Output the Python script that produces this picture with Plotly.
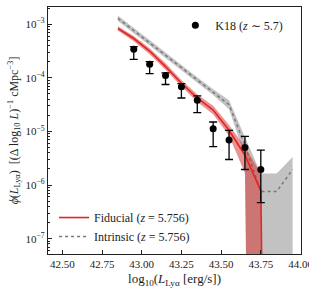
import numpy as np
import plotly.graph_objects as go

# ---------------- data ----------------
# K18 (z ~ 5.7) observed LAE luminosity function
k18_logL = [42.95, 43.05, 43.15, 43.25, 43.35, 43.45, 43.55, 43.65, 43.75]
k18_phi = [3.4e-4, 1.78e-4, 1.1e-4, 6.8e-5, 3.8e-5, 1.12e-5, 6.9e-6, 5.0e-6, 1.95e-6]
k18_phi_hi = [3.8e-4, 2.0e-4, 1.24e-4, 7.8e-5, 4.6e-5, 1.5e-5, 1.05e-5, 8.1e-6, 4.5e-6]
k18_phi_lo = [2.2e-4, 1.2e-4, 7.5e-5, 4.2e-5, 2.24e-5, 5.2e-6, 3.0e-6, 1.95e-6, 4.7e-7]

# Fiducial model (z = 5.756)
fid_logL = [42.85, 42.95, 43.05, 43.15, 43.25, 43.35, 43.45, 43.55, 43.65, 43.75, 43.85]
fid_phi = [8.3e-4, 5.4e-4, 3.16e-4, 1.62e-4, 7.9e-5, 4.2e-5, 2.5e-5, 1.05e-5, 3.6e-6, 7.9e-7, 0.0]
fid_band_logL = [42.85, 42.95, 43.05, 43.15, 43.25, 43.35, 43.45, 43.55, 43.65, 43.75]
fid_hi = [9.1e-4, 6.0e-4, 3.55e-4, 1.86e-4, 9.1e-5, 4.9e-5, 3.0e-5, 1.32e-5, 5.2e-6, 1.66e-6]
fid_lo = [7.6e-4, 4.8e-4, 2.75e-4, 1.41e-4, 6.9e-5, 3.55e-5, 2.1e-5, 8.3e-6, 1.66e-6, 0.0]

# Intrinsic model (z = 5.756)
int_logL = [42.85, 42.95, 43.05, 43.15, 43.25, 43.35, 43.45, 43.55, 43.65, 43.75, 43.85, 43.95]
int_phi = [1.29e-3, 7.6e-4, 4.5e-4, 2.63e-4, 1.55e-4, 9.1e-5, 5.4e-5, 3.16e-5, 5.5e-6, 7.6e-7, 7.6e-7, 1.95e-6]
int_hi = [1.45e-3, 8.5e-4, 5.05e-4, 2.95e-4, 1.74e-4, 1.02e-4, 6.1e-5, 3.8e-5, 7.9e-6, 1.64e-6, 1.64e-6, 3.34e-6]
int_lo = [1.15e-3, 6.8e-4, 4.0e-4, 2.34e-4, 1.38e-4, 8.1e-5, 4.8e-5, 2.6e-5, 3.5e-6, 0.0, 0.0, 0.0]

x_ticks = [42.50, 42.75, 43.00, 43.25, 43.50, 43.75, 44.00]
x_ticktext = ["42.50", "42.75", "43.00", "43.25", "43.50", "43.75", "44.00"]
y_ticks = [1e-7, 1e-6, 1e-5, 1e-4, 1e-3]
y_ticktext = ["10<sup>−7</sup>", "10<sup>−6</sup>", "10<sup>−5</sup>", "10<sup>−4</sup>", "10<sup>−3</sup>"]

# ---------------- helpers ----------------
FLOOR = 1e-30  # zero values clipped on log axis (as matplotlib does)


def clip(v):
    v = np.asarray(v, dtype=float)
    return np.where(v > 0, v, FLOOR)


def band(xs, lo, hi):
    xs = list(xs)
    return xs + xs[::-1], list(clip(hi)) + list(clip(lo))[::-1]


FONT = "Liberation Serif, Times New Roman, serif"
RED = "rgb(228,35,35)"
INK = "#222222"

fig = go.Figure()

bx, by = band(int_logL, int_lo, int_hi)
fig.add_trace(go.Scatter(x=bx, y=by, fill="toself", mode="none",
                         fillcolor="rgba(128,128,128,0.48)", showlegend=False,
                         hoverinfo="skip"))
fig.add_trace(go.Scatter(x=int_logL, y=clip(int_phi), mode="lines",
                         line=dict(color="rgb(120,120,120)", width=1.5, dash="dot"),
                         name="Intrinsic (<i>z</i> = 5.756)", legend="legend2",
                         legendrank=2))

bx, by = band(fid_band_logL, fid_lo, fid_hi)
fig.add_trace(go.Scatter(x=bx, y=by, fill="toself", mode="none",
                         fillcolor="rgba(214,39,40,0.5)", showlegend=False,
                         hoverinfo="skip"))
fig.add_trace(go.Scatter(x=fid_logL, y=clip(fid_phi), mode="lines",
                         line=dict(color=RED, width=1.6),
                         name="Fiducial (<i>z</i> = 5.756)", legend="legend2",
                         legendrank=1))

err_plus = [h - p for h, p in zip(k18_phi_hi, k18_phi)]
err_minus = [p - l for p, l in zip(k18_phi, k18_phi_lo)]
fig.add_trace(go.Scatter(x=k18_logL, y=k18_phi, mode="markers",
                         marker=dict(color="black", size=7),
                         error_y=dict(type="data", symmetric=False, array=err_plus,
                                      arrayminus=err_minus, color="black",
                                      thickness=1.3, width=4),
                         name="K18 (<i>z</i> ∼ 5.7)", legend="legend"))

minor_y = [m * 10.0 ** e for e in range(-8, -2) for m in range(2, 10)]

axis_common = dict(showline=True, linecolor=INK, linewidth=1.3, mirror=True,
                   ticks="inside", tickcolor=INK, showgrid=False, zeroline=False,
                   ticklabeloverflow="allow",
                   tickfont=dict(family=FONT, size=11, color=INK))

fig.update_layout(
    width=309, height=301,
    margin=dict(l=48, r=8, t=7, b=47, autoexpand=False),
    paper_bgcolor="white", plot_bgcolor="white",
    font=dict(family=FONT, color=INK, size=12),
    xaxis=dict(range=[42.41, 44.003], tickmode="array", tickvals=x_ticks,
               ticktext=x_ticktext, ticklen=4,
               title=dict(text="log<sub>10</sub>(<i>L</i><sub>Lyα</sub> [erg/s])",
                          font=dict(family=FONT, size=13, color=INK), standoff=4),
               automargin=False, **axis_common),
    yaxis=dict(type="log", range=[-7.285, -2.68], tickmode="array", tickvals=y_ticks,
               ticktext=y_ticktext, ticklen=4,
               minor=dict(tickmode="array", tickvals=minor_y, ticks="inside",
                          ticklen=2, tickcolor=INK, showgrid=False),
               title=dict(text="<i>ϕ</i>(<i>L</i><sub>Lyα</sub>)  [(Δ log<sub>10</sub> <i>L</i>)<sup>−1</sup> cMpc<sup>−3</sup>]",
                          font=dict(family=FONT, size=12, color=INK), standoff=4),
               automargin=False, **axis_common),
    legend=dict(x=0.95, y=0.985, xanchor="right", yanchor="top",
                bgcolor="rgba(0,0,0,0)", font=dict(family=FONT, size=12, color=INK)),
    legend2=dict(x=0.024, y=0.012, xanchor="left", yanchor="bottom", itemwidth=30,
                 bgcolor="rgba(0,0,0,0)", font=dict(family=FONT, size=12, color=INK),
                 tracegroupgap=0),
)

fig.write_html("out.html", config={"displayModeBar": False},
               post_script="document.body.style.margin='0px';")
